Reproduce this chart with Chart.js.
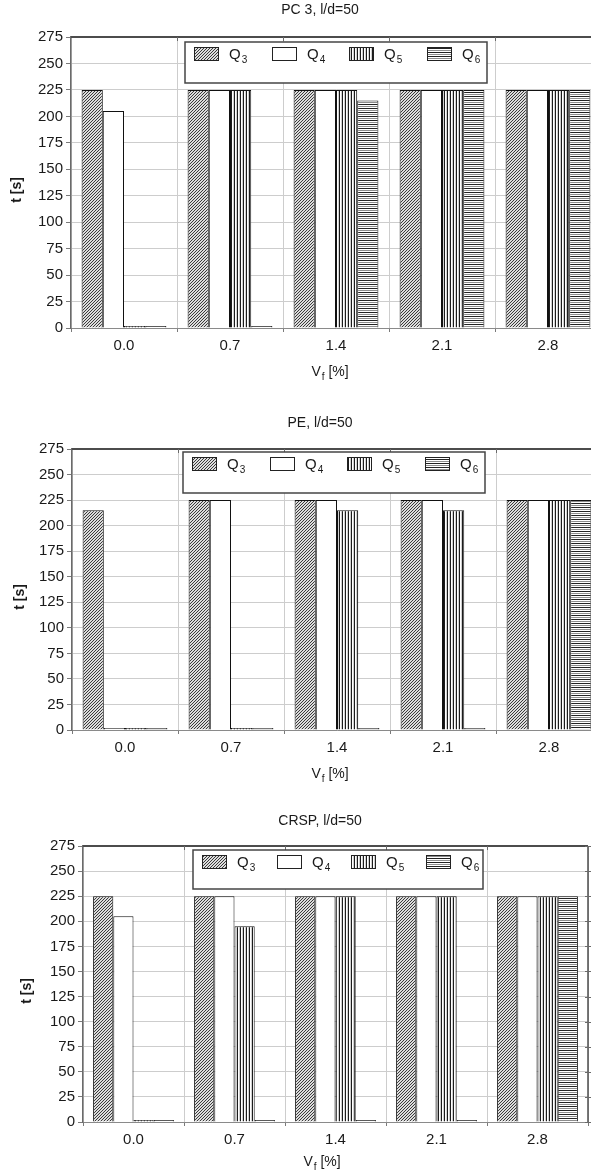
<!DOCTYPE html>
<html>
<head>
<meta charset="utf-8">
<title>t [s] vs V_f [%]</title>
<script src="https://cdn.jsdelivr.net/npm/chart.js@4.4.1/dist/chart.umd.min.js"></script>
<style>
  html, body { margin: 0; padding: 0; background: #fff; overflow: hidden; width: 591px; height: 1174px; }
  .panel { position: absolute; left: 0; }
  canvas { display: block; }
</style>
</head>
<body>
<div class="panel" style="top:0px"><canvas id="pc3" width="620" height="395"></canvas></div>
<div class="panel" style="top:395px"><canvas id="pe" width="620" height="395"></canvas></div>
<div class="panel" style="top:790px"><canvas id="crsp" width="591" height="384"></canvas></div>
<script>
// ---- data -------------------------------------------------------------
const categories = ['0.0', '0.7', '1.4', '2.1', '2.8'];   // V_f [%]
const seriesLabels = ['Q_3', 'Q_4', 'Q_5', 'Q_6'];
const yTickMin = 0, yTickMax = 275, yTickStep = 25;        // t [s]

// PC 3, l/d=50
const pc3Q3 = [225, 225, 225, 225, 225];
const pc3Q4 = [205, 225, 225, 225, 225];
const pc3Q5 = [0, 225, 225, 225, 225];
const pc3Q6 = [0, 0, 215, 225, 225];

// PE, l/d=50
const peQ3 = [215, 225, 225, 225, 225];
const peQ4 = [0, 225, 225, 225, 225];
const peQ5 = [0, 0, 215, 215, 225];
const peQ6 = [0, 0, 0, 0, 225];

// CRSP, l/d=50
const crspQ3 = [225, 225, 225, 225, 225];
const crspQ4 = [205, 225, 225, 225, 225];
const crspQ5 = [0, 195, 225, 225, 225];
const crspQ6 = [0, 0, 0, 0, 225];

// ---- fill patterns ----------------------------------------------------
function tile(w, h, painter) {
  const c = document.createElement('canvas');
  c.width = w; c.height = h;
  const g = c.getContext('2d');
  painter(g);
  return g.createPattern(c, 'repeat');
}
const diagFill = tile(3, 3, g => {
  g.fillStyle = '#dcdcdc'; g.fillRect(0, 0, 3, 3);
  g.fillStyle = '#3a3a3a';
  for (let x = 0; x < 3; x++) g.fillRect(x, 2 - x, 1, 1);
});
const vertFill = tile(3, 1, g => {
  g.fillStyle = '#ffffff'; g.fillRect(0, 0, 3, 1);
  g.fillStyle = '#1c1c1c'; g.fillRect(0, 0, 1, 1);
  g.fillStyle = '#d0d0d0'; g.fillRect(2, 0, 1, 1);
});
const horizFill = tile(1, 4, g => {
  g.fillStyle = '#ffffff'; g.fillRect(0, 0, 1, 4);
  g.fillStyle = '#222222'; g.fillRect(0, 0, 1, 1);
  g.fillStyle = '#8c8c8c'; g.fillRect(0, 2, 1, 1);
});
const seriesFills = [diagFill, '#ffffff', vertFill, horizFill];

// ---- text with subscripts ("Q_3", "V_f [%]") ---------------------------
const FONT = '"Liberation Sans", Arial, Helvetica, sans-serif';
function richParts(text) {
  const parts = [];
  for (let i = 0; i < text.length; i++) {
    if (text[i] === '_' && i + 1 < text.length) { parts.push({ t: text[i + 1], sub: true }); i++; }
    else {
      const last = parts[parts.length - 1];
      if (last && !last.sub) last.t += text[i]; else parts.push({ t: text[i], sub: false });
    }
  }
  return parts;
}
function drawRich(ctx, text, x, y, size, align) {
  const parts = richParts(text);
  const subSize = Math.round(size * 0.68);
  let total = 0;
  parts.forEach(p => {
    ctx.font = (p.sub ? subSize : size) + 'px ' + FONT;
    p.w = ctx.measureText(p.t).width;
    total += p.w + (p.sub ? 1 : 0);
  });
  let cx = align === 'center' ? x - total / 2 : x;
  ctx.textBaseline = 'middle';
  ctx.textAlign = 'left';
  parts.forEach(p => {
    ctx.font = (p.sub ? subSize : size) + 'px ' + FONT;
    ctx.fillText(p.t, cx + (p.sub ? 1 : 0), y + (p.sub ? size * 0.38 : 0));
    cx += p.w + (p.sub ? 1 : 0);
  });
}

// ---- frame, captions and boxed legend ---------------------------------
const panelDecor = {
  id: 'panelDecor',
  afterDraw(chart, args, o) {
    const { ctx, chartArea: a } = chart;
    const xs = chart.scales.x, ys = chart.scales.y;
    ctx.save();

    // frame: top and right edges with short ticks
    ctx.strokeStyle = '#4c4c4c';
    ctx.lineWidth = 2;
    ctx.beginPath(); ctx.moveTo(a.left, a.top); ctx.lineTo(a.right, a.top); ctx.stroke();
    ctx.lineWidth = 1.5;
    ctx.beginPath(); ctx.moveTo(a.right, a.top); ctx.lineTo(a.right, a.bottom); ctx.stroke();
    ctx.lineWidth = 1;
    ctx.strokeStyle = '#6a6a6a';
    ctx.beginPath();
    ys.ticks.forEach(t => {
      const py = Math.round(ys.getPixelForValue(t.value)) + 0.5;
      ctx.moveTo(a.right - 3, py); ctx.lineTo(a.right + 3, py);
    });
    for (let i = 0; i < categories.length - 1; i++) {
      const px = Math.round((xs.getPixelForValue(i) + xs.getPixelForValue(i + 1)) / 2) + 0.5;
      ctx.moveTo(px, a.top); ctx.lineTo(px, a.top + 4);
    }
    ctx.stroke();

    // captions
    ctx.fillStyle = '#1a1a1a';
    ctx.font = '14px ' + FONT;
    ctx.textAlign = 'center';
    ctx.textBaseline = 'middle';
    ctx.fillText(o.title, o.titleX, o.titleY);
    drawRich(ctx, 'V_f [%]', o.xTitleX, o.xTitleY, 14, 'center');
    ctx.save();
    ctx.translate(o.yTitleX, o.yTitleY);
    ctx.rotate(-Math.PI / 2);
    ctx.font = 'bold 14px ' + FONT;
    ctx.textAlign = 'center';
    ctx.textBaseline = 'middle';
    ctx.fillText('t [s]', 0, 0);
    ctx.restore();

    // legend box
    const L = o.legend;
    ctx.fillStyle = '#ffffff';
    ctx.fillRect(L.x, L.y, L.w, L.h);
    ctx.strokeStyle = '#454545';
    ctx.lineWidth = 1.5;
    ctx.strokeRect(L.x, L.y, L.w, L.h);
    chart.data.datasets.forEach((ds, i) => {
      const sx = Math.round(L.x + L.first + i * L.gap), sy = L.y + 5;
      ctx.fillStyle = ds.backgroundColor;
      ctx.fillRect(sx, sy, 25, 14);
      ctx.strokeStyle = '#222';
      ctx.lineWidth = 1;
      ctx.strokeRect(sx + 0.5, sy + 0.5, 24, 13);
      ctx.fillStyle = '#1a1a1a';
      drawRich(ctx, ds.label, sx + 35, sy + 7.5, 15, 'left');
    });
    ctx.restore();
  }
};

// ---- chart builder -----------------------------------------------------
function buildChart(id, series, area, deco) {
  const canvas = document.getElementById(id);
  const W = canvas.width, H = canvas.height;
  return new Chart(canvas, {
    type: 'bar',
    data: {
      labels: categories,
      datasets: series.map((vals, i) => ({
        label: seriesLabels[i],
        data: vals,
        backgroundColor: seriesFills[i],
        borderColor: '#111111',
        borderWidth: 1,
        borderSkipped: 'start',
        minBarLength: 2,
        categoryPercentage: 0.8,
        barPercentage: 1.0
      }))
    },
    options: {
      responsive: false,
      animation: false,
      devicePixelRatio: 1,
      layout: { padding: { left: 0, top: area.top, right: W - area.right, bottom: 0 } },
      plugins: {
        legend: { display: false },
        title: { display: false },
        tooltip: { enabled: false },
        panelDecor: deco
      },
      scales: {
        x: {
          afterFit: s => { s.height = H - area.bottom; },
          grid: { color: '#cdcdcd', lineWidth: 1, offset: true, drawTicks: true, tickLength: 4, tickColor: '#7a7a7a' },
          border: { display: true, color: '#8a8a8a', width: 1 },
          ticks: { color: '#1a1a1a', padding: 5, font: { family: FONT, size: 15 } }
        },
        y: {
          min: yTickMin,
          max: yTickMax,
          afterFit: s => { s.width = area.left; },
          grid: { color: '#cdcdcd', lineWidth: 1, drawTicks: true, tickLength: 5, tickColor: '#7a7a7a' },
          border: { display: true, color: '#6a6a6a', width: 1.5 },
          ticks: { stepSize: yTickStep, color: '#1a1a1a', padding: 3, font: { family: FONT, size: 15 } }
        }
      }
    },
    plugins: [panelDecor]
  });
}

buildChart('pc3', [pc3Q3, pc3Q4, pc3Q5, pc3Q6],
  { left: 71, right: 601, top: 37, bottom: 328 },
  { title: 'PC 3, l/d=50', titleX: 320, titleY: 10,
    xTitleX: 330, xTitleY: 372, yTitleX: 17, yTitleY: 190,
    legend: { x: 185, y: 42, w: 302, h: 41, first: 9, gap: 77.7 } });

buildChart('pe', [peQ3, peQ4, peQ5, peQ6],
  { left: 72, right: 602, top: 54, bottom: 335 },
  { title: 'PE, l/d=50', titleX: 320, titleY: 28,
    xTitleX: 330, xTitleY: 379, yTitleX: 20, yTitleY: 202,
    legend: { x: 183, y: 57, w: 302, h: 41, first: 9, gap: 77.7 } });

buildChart('crsp', [crspQ3, crspQ4, crspQ5, crspQ6],
  { left: 83, right: 588, top: 56, bottom: 332 },
  { title: 'CRSP, l/d=50', titleX: 320, titleY: 31,
    xTitleX: 322, xTitleY: 372, yTitleX: 27, yTitleY: 201,
    legend: { x: 193, y: 60, w: 290, h: 39, first: 9, gap: 74.5 } });
</script>
</body>
</html>
